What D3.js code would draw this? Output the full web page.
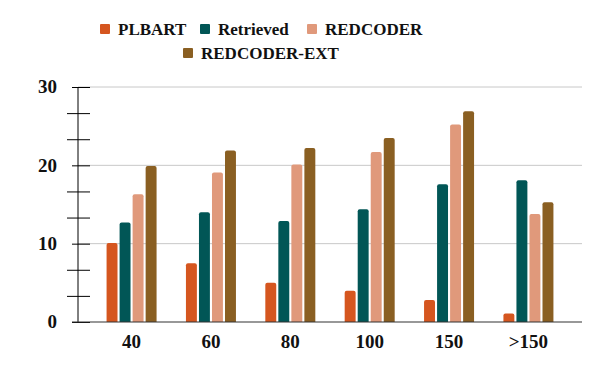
<!DOCTYPE html>
<html>
<head>
<meta charset="utf-8">
<script src="https://cdn.jsdelivr.net/npm/d3@7"></script>
<style>
  body { margin: 0; background: #fff; }
  text { font-family: "Liberation Serif", "DejaVu Serif", serif; font-weight: bold; fill: #111; }
</style>
</head>
<body>
<svg id="chart" width="600" height="371"></svg>
<script>
// chart data
var categories = ['40', '60', '80', '100', '150', '>150'];
var seriesNames = ['PLBART', 'Retrieved', 'REDCODER', 'REDCODER-EXT'];
var plbart      = [10.1, 7.5, 5.0, 4.0, 2.8, 1.1];
var retrieved   = [12.7, 14.0, 12.9, 14.4, 17.6, 18.1];
var redcoder    = [16.3, 19.1, 20.1, 21.7, 25.2, 13.8];
var redcoderExt = [19.9, 21.9, 22.2, 23.5, 26.9, 15.3];
var yTickLabels = [0, 10, 20, 30];

var colors = ['#d5561f', '#015656', '#e0997b', '#8a5f22'];
var allSeries = [plbart, retrieved, redcoder, redcoderExt];

var svg = d3.select('#chart');

//plot area (window.top is reserved, so no plain "top")
var plotLeft = 78, plotRight = 582, plotTop = 87, plotBottom = 322;

var x = d3.scaleBand()
  .domain(categories)
  .range([plotLeft, plotRight])
  .paddingInner(0.37)
  .paddingOuter(0.36);

var xs = d3.scaleBand()
  .domain(seriesNames)
  .range([0, x.bandwidth()])
  .paddingInner(0.16);

var y = d3.scaleLinear().domain([0, 30]).range([plotBottom, plotTop]);

//Gridlines at labelled ticks
svg.append('g')
  .selectAll('line')
  .data(yTickLabels.filter(function(d) { return d > 0; }))
  .join('line')
  .attr('x1', plotLeft)
  .attr('x2', plotRight)
  .attr('y1', function(d) { return y(d); })
  .attr('y2', function(d) { return y(d); })
  .attr('stroke', '#c8c8c8')
  .attr('stroke-width', 1);

//Bars with rounded tops
function barPath(x0, w, yTop, yBot) {
  var r = Math.min(2, (yBot - yTop) / 2);
  return 'M' + x0 + ',' + yBot +
    'V' + (yTop + r) +
    'Q' + x0 + ',' + yTop + ' ' + (x0 + r) + ',' + yTop +
    'H' + (x0 + w - r) +
    'Q' + (x0 + w) + ',' + yTop + ' ' + (x0 + w) + ',' + (yTop + r) +
    'V' + yBot + 'Z';
}

var groups = svg.append('g')
  .selectAll('g')
  .data(categories)
  .join('g')
  .attr('transform', function(d) { return 'translate(' + x(d) + ',0)'; });

groups.selectAll('path')
  .data(function(d, i) {
    return seriesNames.map(function(s, j) { return { s: s, j: j, v: allSeries[j][i] }; });
  })
  .join('path')
  .attr('d', function(d) { return barPath(xs(d.s), xs.bandwidth(), y(d.v), y(0)); })
  .attr('fill', function(d) { return colors[d.j]; });

//Y axis with minor ticks every 10/3
var yAxis = d3.axisLeft(y)
  .tickValues(d3.range(0, 10).map(function(i) { return i * 10 / 3; }))
  .tickSize(11)
  .tickFormat('');

var yg = svg.append('g')
  .attr('transform', 'translate(' + plotLeft + ',0)')
  .call(yAxis);
yg.select('.domain').remove();
//major ticks (every third) start a bit nearer the axis
yg.selectAll('.tick line')
  .attr('x2', function(d, i) { return i % 3 === 0 ? -6 : -11; })
  .attr('x1', 12)
  .attr('stroke', '#000');
yg.append('line')
  .attr('x1', 0).attr('x2', 0)
  .attr('y1', y(30)).attr('y2', y(0))
  .attr('stroke', '#000');

svg.append('g')
  .selectAll('text')
  .data(yTickLabels)
  .join('text')
  .attr('x', 57)
  .attr('y', function(d) { return y(d); })
  .attr('dy', '0.33em')
  .attr('text-anchor', 'end')
  .attr('font-size', 19)
  .text(function(d) { return d; });

//X baseline
svg.append('line')
  .attr('x1', 72).attr('x2', plotRight)
  .attr('y1', y(0)).attr('y2', y(0))
  .attr('stroke', '#333')
  .attr('stroke-width', 1.2);

//X labels
var xAxis = d3.axisBottom(x).tickSize(0).tickPadding(13);
var xg = svg.append('g')
  .attr('transform', 'translate(0,' + y(0) + ')')
  .call(xAxis);
xg.select('.domain').remove();
xg.selectAll('text')
  .attr('font-size', 19)
  .attr('font-family', '"Liberation Serif", serif')
  .attr('font-weight', 'bold')
  .attr('fill', '#111');

//Legend
var legendRows = [
  [{ i: 0, x: 100 }, { i: 1, x: 200 }, { i: 2, x: 307 }],
  [{ i: 3, x: 183 }]
];
var legendY = [29, 53];
legendRows.forEach(function(row, r) {
  row.forEach(function(item) {
    svg.append('rect')
      .attr('x', item.x)
      .attr('y', legendY[r] - 5)
      .attr('width', 10)
      .attr('height', 10)
      .attr('rx', 1)
      .attr('fill', colors[item.i]);
    svg.append('text')
      .attr('x', item.x + 18)
      .attr('y', legendY[r])
      .attr('dy', '0.35em')
      .attr('font-size', 17)
      .text(seriesNames[item.i]);
  });
});
</script>
</body>
</html>
